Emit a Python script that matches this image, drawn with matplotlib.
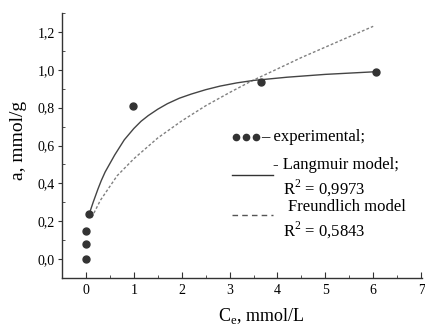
import matplotlib
matplotlib.use("Agg")
import matplotlib.pyplot as plt
from matplotlib.ticker import MultipleLocator

plt.rcParams['font.family'] = ['Liberation Serif', 'DejaVu Serif']
plt.rcParams['mathtext.fontset'] = 'custom'
plt.rcParams['mathtext.rm'] = 'Liberation Serif'

# experimental points
exp_c = [0.0, 0.0, 0.0, 0.07, 0.98, 3.65, 6.05]
exp_a = [0.0, 0.08, 0.15, 0.24, 0.81, 0.937, 0.99]

# Langmuir model curve
lang_c = [0.07, 0.11, 0.15, 0.2, 0.25, 0.32, 0.4, 0.5, 0.6, 0.7, 0.8, 0.9, 1.0, 1.15, 1.3, 1.5, 1.7,
          1.95, 2.2, 2.5, 2.8, 3.15, 3.5, 4.2, 5.0, 6.05]
lang_a = [0.24, 0.27, 0.30, 0.335, 0.37, 0.415, 0.46, 0.505, 0.55, 0.59, 0.63, 0.66, 0.69, 0.728, 0.758,
          0.792, 0.821, 0.850, 0.872, 0.895, 0.914, 0.931, 0.944, 0.961, 0.976, 0.99]

# Freundlich model curve
freu_c = [0.12, 0.3, 0.65, 1.0, 1.5, 2.0, 2.5, 3.0, 3.45, 4.0, 4.5, 5.0, 5.5, 6.0]
freu_a = [0.22, 0.31, 0.44, 0.53, 0.64, 0.73, 0.81, 0.88, 0.94, 1.005, 1.065, 1.12, 1.175, 1.23]

x_ticks = [0, 1, 2, 3, 4, 5, 6, 7]
x_labels = ['0', '1', '2', '3', '4', '5', '6', '7']
y_ticks = [0.0, 0.2, 0.4, 0.6, 0.8, 1.0, 1.2]
y_labels = ['0,0', '0,2', '0,4', '0,6', '0,8', '1,0', '1,2']

fig = plt.figure(figsize=(4.25, 3.27), dpi=100)
ax = fig.add_axes([0.146, 0.150, 0.847, 0.810])

ax.plot(freu_c, freu_a, color='#808080', lw=1.0, linestyle=(0, (2, 1.5)))
ax.plot(lang_c, lang_a, color='#444444', lw=1.0)
ax.plot(exp_c, exp_a, 'o', color='#333333', markersize=5, zorder=5)

ax.set_xlim(-0.5, 7.02)
ax.set_ylim(-0.1, 1.3)
ax.spines['top'].set_visible(False)
ax.spines['right'].set_visible(False)
for s in ('left', 'bottom'):
    ax.spines[s].set_color('#333333')
    ax.spines[s].set_linewidth(1.0)

ax.set_xticks(x_ticks)
ax.set_xticklabels(x_labels, fontsize=10)
ax.set_yticks(y_ticks)
ax.set_yticklabels(y_labels, fontsize=10)
ax.xaxis.set_minor_locator(MultipleLocator(0.5))
ax.yaxis.set_minor_locator(MultipleLocator(0.1))
ax.tick_params(axis='x', which='major', direction='in', length=4, color='#333333', pad=4)
ax.tick_params(axis='x', which='minor', direction='in', length=2, color='#333333')
ax.tick_params(axis='y', which='major', direction='out', length=3, color='#333333', pad=2)
ax.tick_params(axis='y', which='minor', direction='in', length=2.5, color='#333333')

ax.set_xlabel(r'C$_{\mathregular{e}}$, mmol/L', fontsize=13)
ax.xaxis.set_label_coords((261 - 62) / 360, -(306 - 278) / 265)
ax.set_ylabel('a, mmol/g', fontsize=14)
ax.yaxis.set_label_coords(-(62 - 27) / 360, 0.52)

# legend as text
fs = 12
for px in (236, 246, 256):
    fig.add_artist(plt.Line2D([px / 425], [1 - 137 / 327], marker='o', markersize=4.5,
                              color='#333333', linestyle='none'))
fig.text(261/425, 1 - 137/327, '\u2013 experimental;', fontsize=fs, va='center', ha='left')
fig.add_artist(plt.Line2D([232/425, 273/425], [1 - 175/327, 1 - 175/327], color='#333333', lw=1.0))
fig.text(273/425, 1 - 165/327, '- Langmuir model;', fontsize=fs, va='center', ha='left')
fig.text(283/425, 1 - 188/327, r'R$^{\mathregular{2}}$ = 0,9973', fontsize=fs, va='center', ha='left')
fig.add_artist(plt.Line2D([232/425, 273/425], [1 - 215/327, 1 - 215/327], color='#555555', lw=1.0,
                          linestyle=(0, (4, 3))))
fig.text(288/425, 1 - 207/327, 'Freundlich model', fontsize=fs, va='center', ha='left')
fig.text(283/425, 1 - 230/327, r'R$^{\mathregular{2}}$ = 0,5843', fontsize=fs, va='center', ha='left')

fig.savefig('out.png', dpi=100)
